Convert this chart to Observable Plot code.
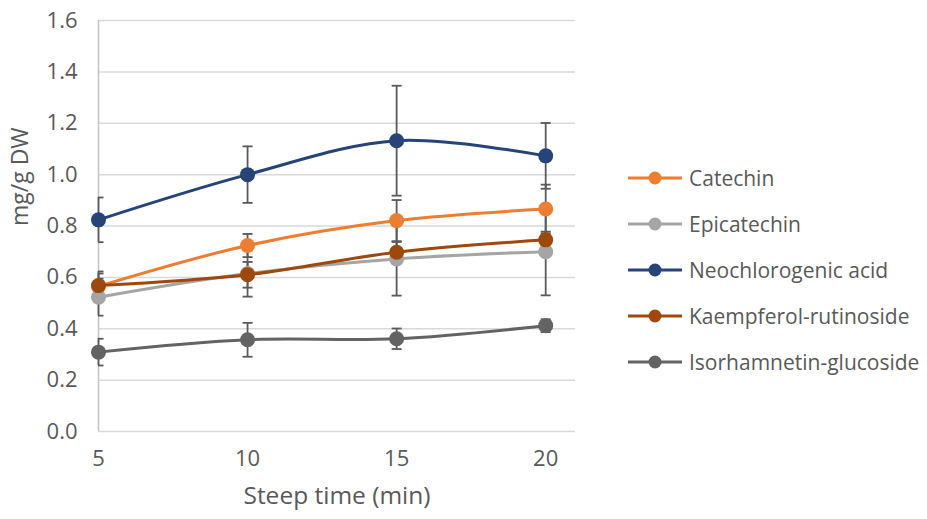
<!DOCTYPE html>
<html><head><meta charset="utf-8">
<script src="https://cdn.jsdelivr.net/npm/d3@7"></script>
<script src="https://cdn.jsdelivr.net/npm/@observablehq/plot@0.6"></script>
<style>
body{margin:0;background:#fff;font-family:"Open Sans",sans-serif;}
#wrap{position:relative;width:927px;height:519px;overflow:hidden;}
#chart{position:absolute;left:0;top:0;}
#legend{position:absolute;left:628px;top:0;}
.item{position:absolute;left:0;display:flex;align-items:center;height:30px;white-space:nowrap;color:#595959;font-size:21px;}
.item svg{margin-right:7px;}
</style></head><body>
<div id="wrap"><div id="chart"></div><div id="legend"></div></div>
<script>
const times = [5, 10, 15, 20];
const seriesNames = ["Catechin", "Epicatechin", "Neochlorogenic acid", "Kaempferol-rutinoside", "Isorhamnetin-glucoside"];
const catechin = [0.565, 0.724, 0.821, 0.866];
const catechinErr = [0.05, 0.045, 0.08, 0.095];
const epicatechin = [0.523, 0.615, 0.672, 0.70];
const epicatechinErr = [0.072, 0.09, 0.143, 0.17];
const neochlorogenic = [0.824, 1.0, 1.132, 1.073];
const neochlorogenicErr = [0.087, 0.11, 0.214, 0.128];
const kaempferol = [0.568, 0.61, 0.698, 0.746];
const kaempferolErr = [0.055, 0.05, 0.04, 0.032];
const isorhamnetin = [0.309, 0.357, 0.361, 0.412];
const isorhamnetinErr = [0.052, 0.066, 0.04, 0.025];
const yTicks = [0, 0.2, 0.4, 0.6, 0.8, 1.0, 1.2, 1.4, 1.6];
const colors = ["#ED7D31", "#A5A5A5", "#264478", "#9E480E", "#636363"];

const values = [catechin, epicatechin, neochlorogenic, kaempferol, isorhamnetin];
const errs = [catechinErr, epicatechinErr, neochlorogenicErr, kaempferolErr, isorhamnetinErr];
const rows = [];
seriesNames.forEach((s, i) => times.forEach((t, j) => rows.push({series: s, time: t, value: values[i][j], err: errs[i][j]})));

const capSymbol = {draw(ctx, size) { const w = Math.sqrt(size / Math.PI); ctx.moveTo(-w, 0); ctx.lineTo(w, 0); }};
const barColor = "#595959";

const seriesMarks = seriesNames.flatMap((s, i) => {
  const d = rows.filter(r => r.series === s);
  return [
    Plot.line(d, {x: "time", y: "value", stroke: colors[i], strokeWidth: 3, curve: "catmull-rom"}),
    Plot.dot(d, {x: "time", y: "value", r: 7.5, fill: colors[i], stroke: "none"})
  ];
});

const chart = Plot.plot({
  width: 600, height: 519,
  marginLeft: 98, marginRight: 25, marginTop: 20, marginBottom: 88,
  style: {fontFamily: "Open Sans", fontSize: "22px", color: "#595959", background: "white"},
  x: {type: "linear", domain: [5, 21]},
  y: {domain: [0, 1.6]},
  marks: [
    Plot.ruleY(yTicks, {stroke: "#d9d9d9", strokeWidth: 1.5}),
    Plot.ruleX([times[0]], {stroke: "#c4c4c4", strokeWidth: 1.5}),
    Plot.axisY({ticks: yTicks, tickSize: 0, tickPadding: 21, tickFormat: d3.format(".1f"), label: null, fontSize: 22, fill: "#595959"}),
    Plot.axisX({ticks: times, tickSize: 0, tickPadding: 19, label: null, fontSize: 22, fill: "#595959"}),
    Plot.text(["mg/g DW"], {frameAnchor: "left", dx: -78, rotate: -90, fontSize: 23, fill: "#595959", text: d => d}),
    Plot.text(["Steep time (min)"], {frameAnchor: "bottom", dy: 72, fontSize: 24.5, fill: "#595959", text: d => d}),
    Plot.ruleX(rows, {x: "time", y1: d => d.value - d.err, y2: d => d.value + d.err, stroke: barColor, strokeWidth: 1.8}),
    Plot.dot(rows, {x: "time", y: d => d.value + d.err, symbol: capSymbol, r: 5, stroke: barColor, strokeWidth: 1.8, clip: "frame"}),
    Plot.dot(rows, {x: "time", y: d => d.value - d.err, symbol: capSymbol, r: 5, stroke: barColor, strokeWidth: 1.8, clip: "frame"}),
    ...seriesMarks
  ]
});
document.getElementById("chart").appendChild(chart);

const legend = document.getElementById("legend");
seriesNames.forEach((s, i) => {
  const item = document.createElement("div");
  item.className = "item";
  item.style.top = (163 + i * 46) + "px";
  item.innerHTML = `<svg width="54" height="14"><line x1="0" y1="7" x2="54" y2="7" stroke="${colors[i]}" stroke-width="3"/><circle cx="27" cy="7" r="6.5" fill="${colors[i]}"/></svg><span></span>`;
  item.querySelector("span").textContent = s;
  legend.appendChild(item);
});
</script>
</body></html>
